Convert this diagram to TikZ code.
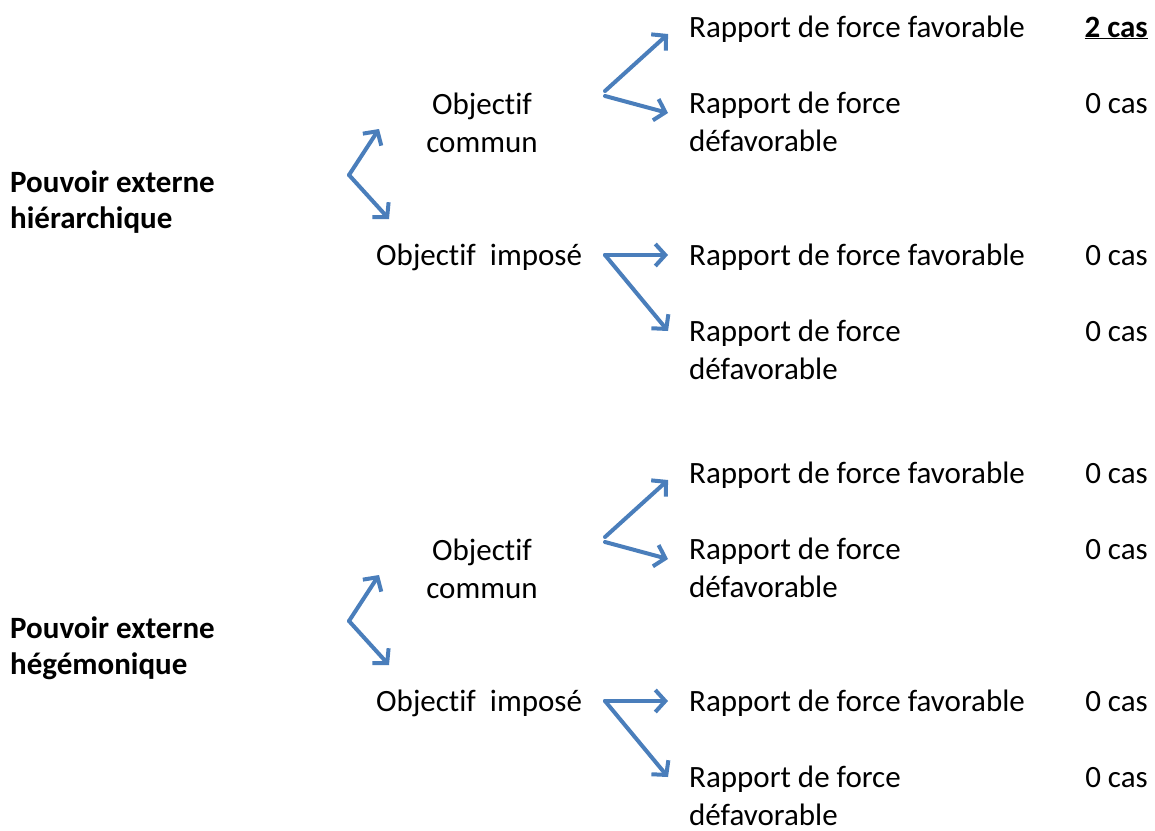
\documentclass[tikz,border=0pt]{standalone}
\usepackage{fontspec}
\setmainfont{Carlito}[Ligatures=NoCommon]
\usetikzlibrary{arrows.meta}
\definecolor{flecheBleu}{HTML}{4A7EBB}
\tikzset{
  fleche/.style={-{Straight Barb[length=10pt,width=22pt]}, draw=flecheBleu,
                 line width=4pt, line cap=round},
  texte/.style={anchor=base west, inner sep=0pt, align=left,
                font=\fontsize{31}{38}\selectfont},
  titre/.style={texte, font=\fontsize{31}{36}\selectfont\bfseries},
  cas/.style={texte, anchor=base east},
}
\begin{document}
\begin{tikzpicture}[x=1pt, y=-1pt]
  \useasboundingbox (0,0) rectangle (1155,830);
  \foreach \dy/\b/\sorte/\premier in {0/h/hiérarchique/{\underline{\textbf{2 cas}}},
                                       446/g/hégémonique/{0 cas}}{
    % pouvoir et objectifs (base = derniere ligne)
    \node[titre] (pouvoir\b) at (10,228+\dy) {Pouvoir externe\\\sorte};
    \node[texte, anchor=base, align=center] (commun\b) at (482,152+\dy) {Objectif\\commun};
    \node[texte] (impose\b) at (376,265+\dy) {Objectif\ \ imposé};
    % rapports de force
    \node[texte] (favA\b) at (689,37+\dy) {Rapport de force favorable};
    \node[texte] (defA\b) at (689,151+\dy) {Rapport de force\\défavorable};
    \node[texte] (favB\b) at (689,265+\dy) {Rapport de force favorable};
    \node[texte] (defB\b) at (689,379+\dy) {Rapport de force\\défavorable};
    % cas
    \node[cas] (casA\b) at (1148,37+\dy) {\premier};
    \node[cas] (casB\b) at (1148,113+\dy) {0 cas};
    \node[cas] (casC\b) at (1148,265+\dy) {0 cas};
    \node[cas] (casD\b) at (1148,341+\dy) {0 cas};
    % fourches
    \coordinate (o\b) at (349,175+\dy);
    \coordinate (oc\b) at (379,129+\dy);
    \coordinate (oi\b) at (389,219+\dy);
    \draw[fleche] (o\b) -- (oc\b);
    \draw[fleche] (o\b) -- (oi\b);
    \coordinate (c1\b) at (605,91+\dy);
    \coordinate (c2\b) at (605,96+\dy);
    \coordinate (tA\b) at (668,34+\dy);
    \coordinate (tB\b) at (668,113+\dy);
    \draw[fleche] (c1\b) -- (tA\b);
    \draw[fleche] (c2\b) -- (tB\b);
    \coordinate (i\b) at (605,255+\dy);
    \coordinate (tC\b) at (668,255+\dy);
    \coordinate (tD\b) at (668,331+\dy);
    \draw[fleche] (i\b) -- (tC\b);
    \draw[fleche] (i\b) -- (tD\b);
  }
\end{tikzpicture}
\end{document}
